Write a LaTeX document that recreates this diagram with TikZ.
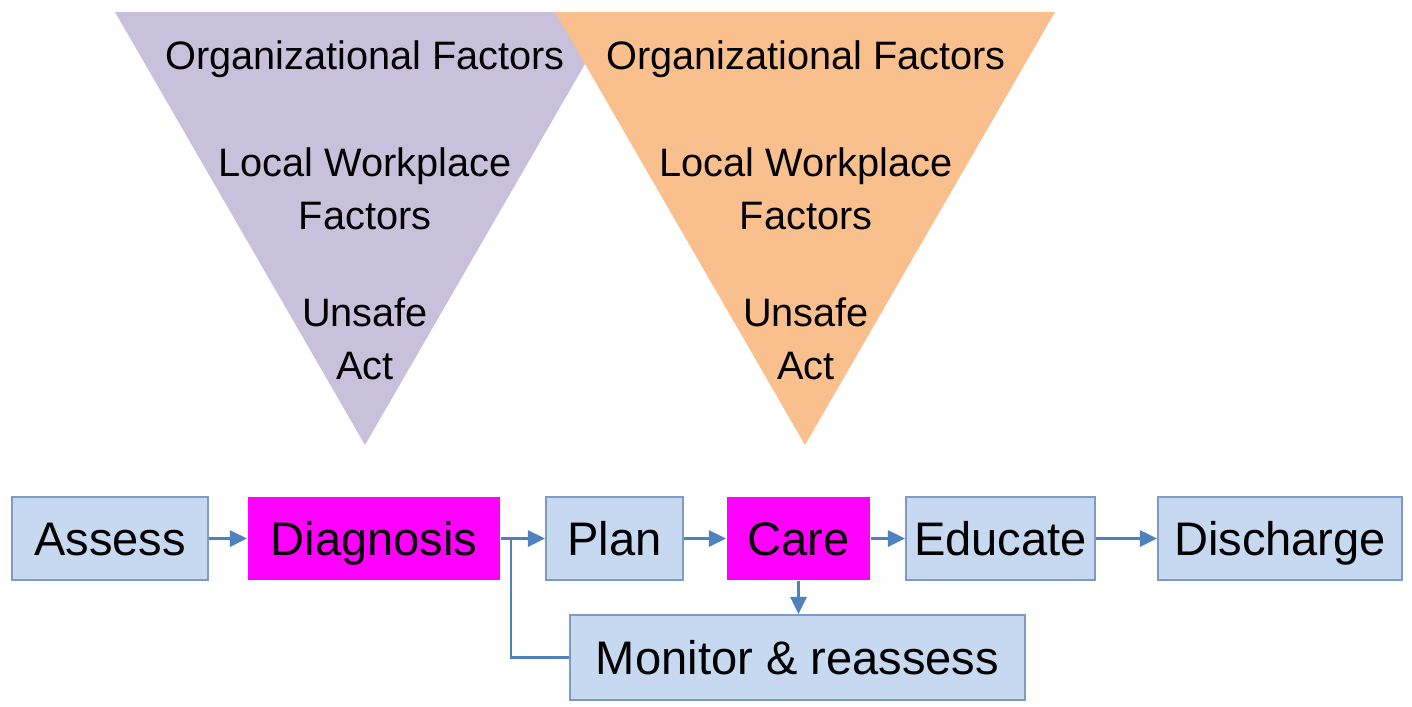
\documentclass[tikz,border=0pt]{standalone}
\usepackage{fontspec}
\setmainfont{Liberation Sans}
\usetikzlibrary{arrows.meta}
\definecolor{lilac}{HTML}{C9C1DB}
\definecolor{peach}{HTML}{F9BF8D}
\definecolor{boxblue}{HTML}{C6D9F1}
\definecolor{boxline}{HTML}{7C9CC4}
\definecolor{linkblue}{HTML}{4F81BD}
\definecolor{hotpink}{HTML}{FF00FF}
\tikzset{
  factor/.style={font=\fontsize{11.3}{15.1}\selectfont, align=center, inner sep=0pt},
  stepbox/.style={draw=boxline, fill=boxblue, line width=0.6pt, minimum height=0.83cm,
    inner sep=0pt, text height=11pt, text depth=1.4pt, font=\fontsize{13.4}{16}\selectfont},
  hotbox/.style={stepbox, draw=none, fill=hotpink},
  link/.style={draw=linkblue, line width=0.8pt},
  flow/.style={link, -{Triangle[length=1.7mm, width=1.6mm]}}
}

\begin{document}
\begin{tikzpicture}
            \useasboundingbox (0,0) rectangle (14.12,7.06);
            
            \fill[color=lilac] (1.15,6.94) -- (6.15,6.94) -- (3.65,2.61) -- cycle;
            \fill[color=peach] (5.55,6.94) -- (10.55,6.94) -- (8.05,2.61) -- cycle;
            
            \node[factor] (orgA) at (3.65,6.47) {Organizational Factors};
            \node[factor] (localA) at (3.65,5.17) {Local Workplace\\Factors};
            \node[factor] (unsafeA) at (3.65,3.67) {Unsafe\\Act};
            \node[factor] (orgB) at (8.06,6.47) {Organizational Factors};
            \node[factor] (localB) at (8.06,5.17) {Local Workplace\\Factors};
            \node[factor] (unsafeB) at (8.06,3.67) {Unsafe\\Act};
            
            \node[stepbox, minimum width=1.96cm] (assess) at (1.10,1.675) {Assess};
            \node[hotbox, minimum width=2.52cm] (diag) at (3.74,1.675) {Diagnosis};
            \node[stepbox, minimum width=1.37cm] (plan) at (6.145,1.675) {Plan};
            \node[hotbox, minimum width=1.43cm] (care) at (7.985,1.675) {Care};
            \node[stepbox, minimum width=1.89cm] (educate) at (10.005,1.675) {Educate};
            \node[stepbox, minimum width=2.44cm] (discharge) at (12.80,1.675) {Discharge};
            \node[stepbox, minimum width=4.55cm, minimum height=0.85cm] (monitor) at (7.975,0.485) {Monitor \& reassess};
            
            \coordinate (split) at (5.11,1.675);
            
            \draw[flow] (assess) -- (diag);
            \draw[flow] (diag) -- (plan);
            \draw[link] (split) |- (monitor.west);
            \draw[flow] (plan) -- (care);
            \draw[flow] (care) -- (educate);
            \draw[flow] (educate) -- (discharge);
            \draw[flow] (care.south) -- (care.south |- monitor.north);
            
            \end{tikzpicture}
\end{document}
